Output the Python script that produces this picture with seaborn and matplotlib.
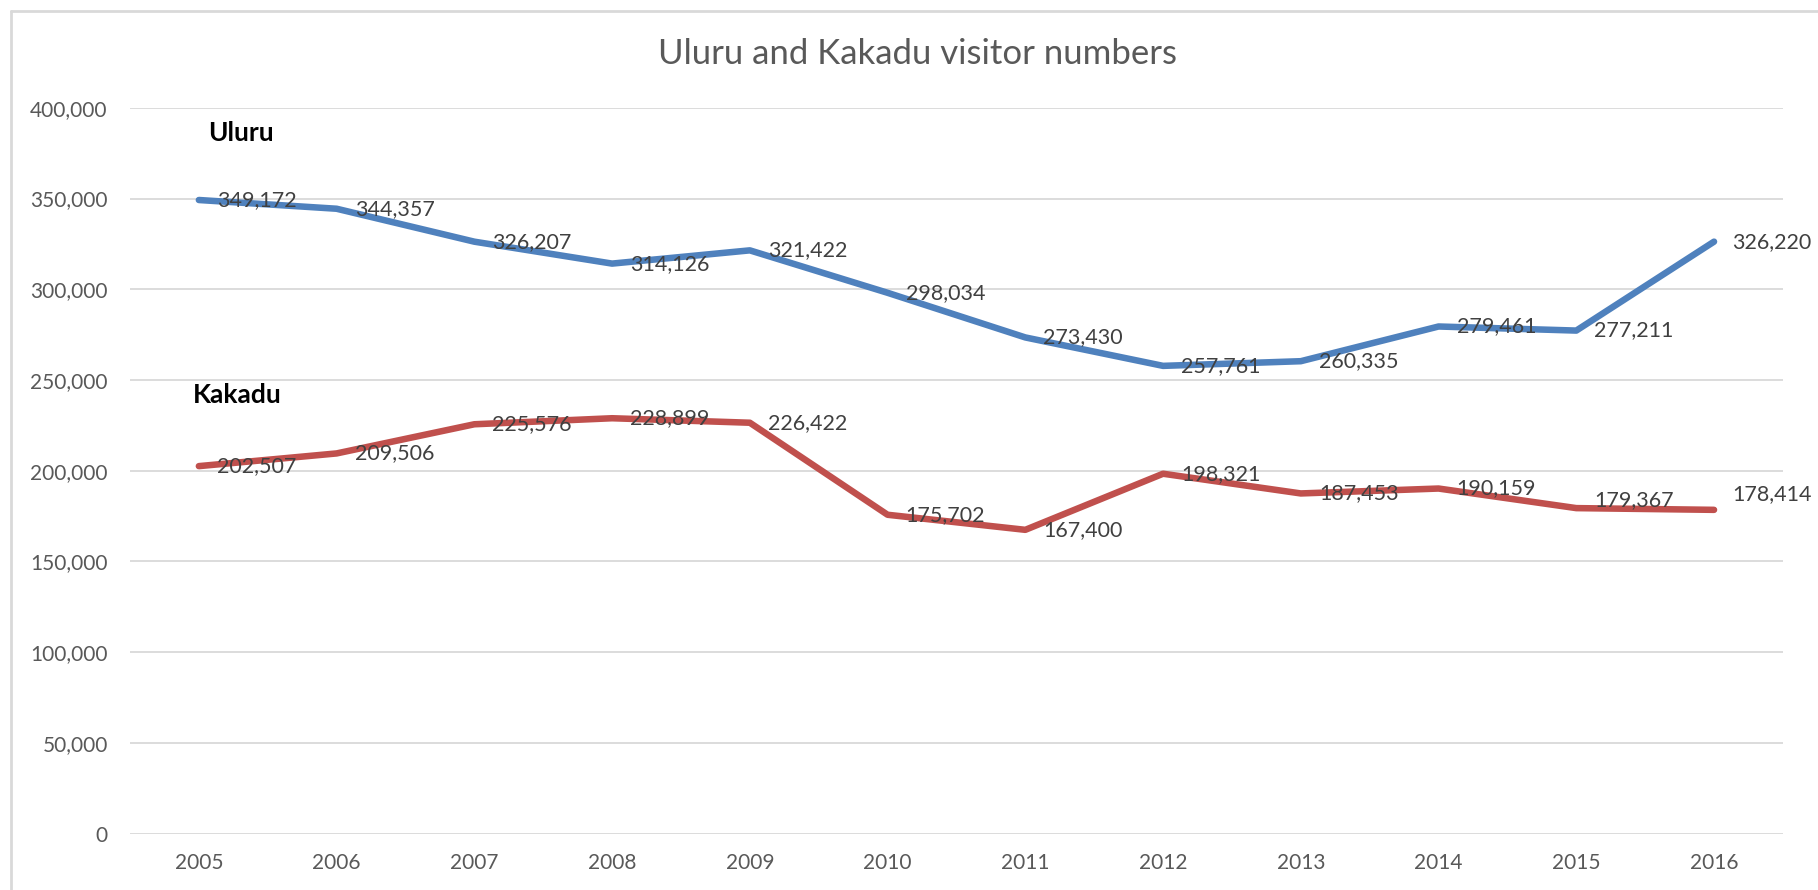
import pandas as pd
import numpy as np
import matplotlib

matplotlib.use('Agg')
import matplotlib.pyplot as plt
import seaborn as sns
from matplotlib.lines import Line2D
from matplotlib.ticker import FuncFormatter

years = [2005, 2006, 2007, 2008, 2009, 2010, 2011, 2012, 2013, 2014, 2015, 2016]
uluru = [349172, 344357, 326207, 314126, 321422, 298034, 273430, 257761, 260335, 279461, 277211, 326220]
kakadu = [202507, 209506, 225576, 228899, 226422, 175702, 167400, 198321, 187453, 190159, 179367, 178414]
y_ticks = [0, 50000, 100000, 150000, 200000, 250000, 300000, 350000, 400000]


def build_frame():
    rows = []
    for i, yr in enumerate(years):
        rows.append((i, str(yr), uluru[i], "Uluru"))
        rows.append((i, str(yr), kakadu[i], "Kakadu"))
    return pd.DataFrame(rows, columns=["pos", "year", "visitors", "park"])


df = build_frame()

sns.set_theme(style="white")
plt.rcParams['font.family'] = ['Lato', 'DejaVu Sans']

fig = plt.figure(figsize=(18.18, 8.9), dpi=100)
ax = fig.add_axes([0.0715, 0.0634, 0.9092, 0.8155])

colors = {"Uluru": "#4F81BD", "Kakadu": "#C0504D"}
sns.lineplot(data=df, x="pos", y="visitors", hue="park", palette=colors,
             linewidth=4.7, legend=False, ax=ax, zorder=3)

# data labels, right of each point
label_col = "#404040"
for i in range(len(years)):
    ax.annotate(f"{uluru[i]:,}", (i, uluru[i]), xytext=(13, 0), textcoords="offset points",
                va="center", ha="left", fontsize=15.5, color=label_col, zorder=4)
for i in range(len(years)):
    dy = 0
    if i == 10:
        dy = 6
    if i == 11:
        dy = 11
    ax.annotate(f"{kakadu[i]:,}", (i, kakadu[i]), xytext=(13, dy), textcoords="offset points",
                va="center", ha="left", fontsize=15.5, color=label_col, zorder=4)

ax.text(0.07, 386000, "Uluru", fontsize=19, fontweight="bold", color="black", va="center")
ax.text(-0.04, 241500, "Kakadu", fontsize=19, fontweight="bold", color="black", va="center")

ax.set_xlim(-0.5, 11.5)
ax.set_ylim(0, 400000)
ax.set_xticks(range(len(years)))
ax.set_xticklabels([str(y) for y in years])
ax.set_yticks(y_ticks)
ax.yaxis.set_major_formatter(FuncFormatter(lambda v, p: f"{int(v):,}"))
ax.grid(axis="y", color="#D9D9D9", linewidth=1.3)
ax.set_axisbelow(True)
for s in ax.spines.values():
    s.set_visible(False)
ax.tick_params(axis="x", length=0, pad=14, labelsize=15, labelcolor="#595959")
ax.tick_params(axis="y", length=0, pad=16, labelsize=15, labelcolor="#595959")
ax.set_xlabel("")
ax.set_ylabel("")

fig.text(0.5045, 0.939, "Uluru and Kakadu visitor numbers", ha="center", va="center",
         fontsize=25, color="#595959")

# chart area border (top and left edges visible)
fig.add_artist(Line2D([11 / 1818, 1.0], [1 - 11 / 890, 1 - 11 / 890], color="#D9D9D9",
                      linewidth=2, transform=fig.transFigure))
fig.add_artist(Line2D([11 / 1818, 11 / 1818], [0.0, 1 - 11 / 890], color="#D9D9D9",
                      linewidth=2, transform=fig.transFigure))

plt.savefig("out.png", dpi=100)
